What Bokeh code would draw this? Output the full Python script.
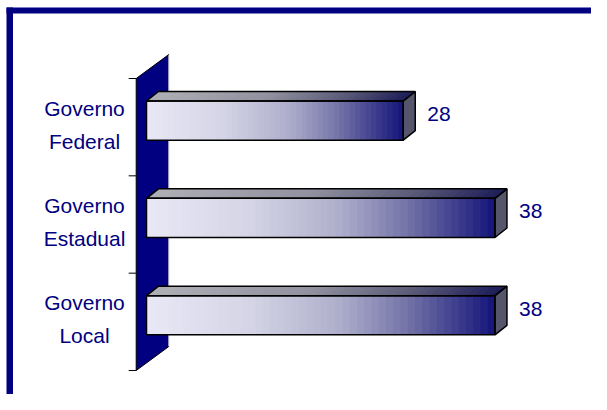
from bokeh.plotting import figure
from bokeh.models import Range1d, ColumnDataSource
from bokeh.embed import file_html
from bokeh.resources import INLINE
from bokeh.core.properties import value

# ---- data ----
categories = ["Governo\nFederal", "Governo\nEstadual", "Governo\nLocal"]
values = [28, 38, 38]

# ---- layout constants (pixels) ----
W, H = 591, 394
PX = 9.17          # pixels per value unit
PY = 97.33         # pixels per category band
X0 = 146           # figure pixel of value 0
Y0 = 370           # figure pixel (from top) of bottom of category axis
n = len(categories)

xr = Range1d(-X0 / PX, (W - X0) / PX)
yr = Range1d(-(H - Y0) / PY, Y0 / PY)

p = figure(width=W, height=H, x_range=xr, y_range=yr, output_backend="svg",
           toolbar_location=None, min_border=0)
p.axis.visible = False
p.grid.visible = False
p.outline_line_color = None
p.background_fill_color = "white"

NAVY = "#000080"
FONT = value("Liberation Sans")

# offsets in data units
DX = 12 / PX
DY = 9.5 / PY
WF = -10.3 / PX
WB = 22.3 / PX
WDY = 24 / PY
HALF = 19.6 / PY
LIFT = 6.6 / PY

# ---- outer frame (top and left only visible) ----
fl = xr.start + 6 / PX
ft = yr.end - 7 / PY
p.quad(left=fl, right=xr.end, top=ft, bottom=ft - 6 / PY,
       fill_color=NAVY, line_color=None)
p.quad(left=fl, right=fl + 6.5 / PX, top=ft, bottom=yr.start,
       fill_color=NAVY, line_color=None)

# ---- side wall ----
p.patch([WF, WF, WB, WB], [0, n, n + WDY, WDY], fill_color=NAVY, line_color=None)
p.line([WB, WB], [WDY, n + WDY], line_color="#c8c8c8", line_width=1)
p.line([WF, WF], [0, n], line_color="black", line_width=1)
p.line([WF, WB], [n, n + WDY], line_color="black", line_width=1)
p.line([WF, WB], [0, WDY], line_color="black", line_width=1)
p.segment(x0=[WF - 7.5 / PX] * (n + 1), x1=[WF] * (n + 1),
          y0=list(range(n + 1)), y1=list(range(n + 1)), line_color="black", line_width=1)


def interp(stops, t):
    for (t0, c0), (t1, c1) in zip(stops[:-1], stops[1:]):
        if t <= t1:
            f = (t - t0) / (t1 - t0) if t1 > t0 else 0
            return "#%02x%02x%02x" % tuple(int(round(a + (b - a) * f)) for a, b in zip(c0, c1))
    return "#%02x%02x%02x" % stops[-1][1]


front_stops = [(0.0, (232, 232, 246)), (0.3, (212, 212, 230)), (0.55, (175, 175, 204)),
               (0.75, (115, 115, 168)), (0.9, (58, 58, 140)), (1.0, (20, 20, 122))]
top_stops = [(0.0, (175, 175, 182)), (0.45, (145, 145, 160)), (0.75, (90, 90, 120)),
             (1.0, (28, 28, 88))]

N = 48
for i, (cat, v) in enumerate(zip(categories, values)):
    band = n - 1 - i
    cy = band + 0.5 + LIFT
    top, bot = cy + HALF, cy - HALF
    fxs, fys, fcs, txs, tys, tcs = [], [], [], [], [], []
    for k in range(N):
        a = v * k / N
        t = (k + 0.5) / N
        # each strip runs to the bar end; later strips overdraw -> no seams
        fxs.append([a, v, v, a]); fys.append([bot, bot, top, top])
        fcs.append(interp(front_stops, t))
        txs.append([a, v, v + DX, a + DX]); tys.append([top, top, top + DY, top + DY])
        tcs.append(interp(top_stops, t))
    p.patches(fxs, fys, fill_color=fcs, line_color=None)
    p.patches(txs, tys, fill_color=tcs, line_color=None)
    # side face
    p.patch([v, v + DX, v + DX, v], [bot, bot + DY, top + DY, top],
            fill_color="#55556c", line_color="black", line_width=1.5)
    # outlines
    p.patch([0, v, v, 0], [bot, bot, top, top], fill_color=None,
            line_color="black", line_width=1.5)
    p.patch([0, v, v + DX, DX], [top, top, top + DY, top + DY], fill_color=None,
            line_color="black", line_width=1.5)
    # value label
    p.text(x=[v + DX + 12 / PX], y=[cy + 6.5 / PY], text=[str(v)],
           text_font=FONT, text_font_size="21px", text_color=NAVY,
           text_align="left", text_baseline="middle")

# category labels
src = ColumnDataSource(dict(
    x=[(84 - X0) / PX] * n,
    y=[n - 1 - i + 0.5 + 2.5 / PY for i in range(n)],
    t=categories))
p.text(x="x", y="y", text="t", source=src, text_font=FONT, text_font_size="21px",
       text_color=NAVY, text_align="center", text_baseline="middle", text_line_height=1.43)

open("out.html", "w").write(file_html(p, INLINE))
